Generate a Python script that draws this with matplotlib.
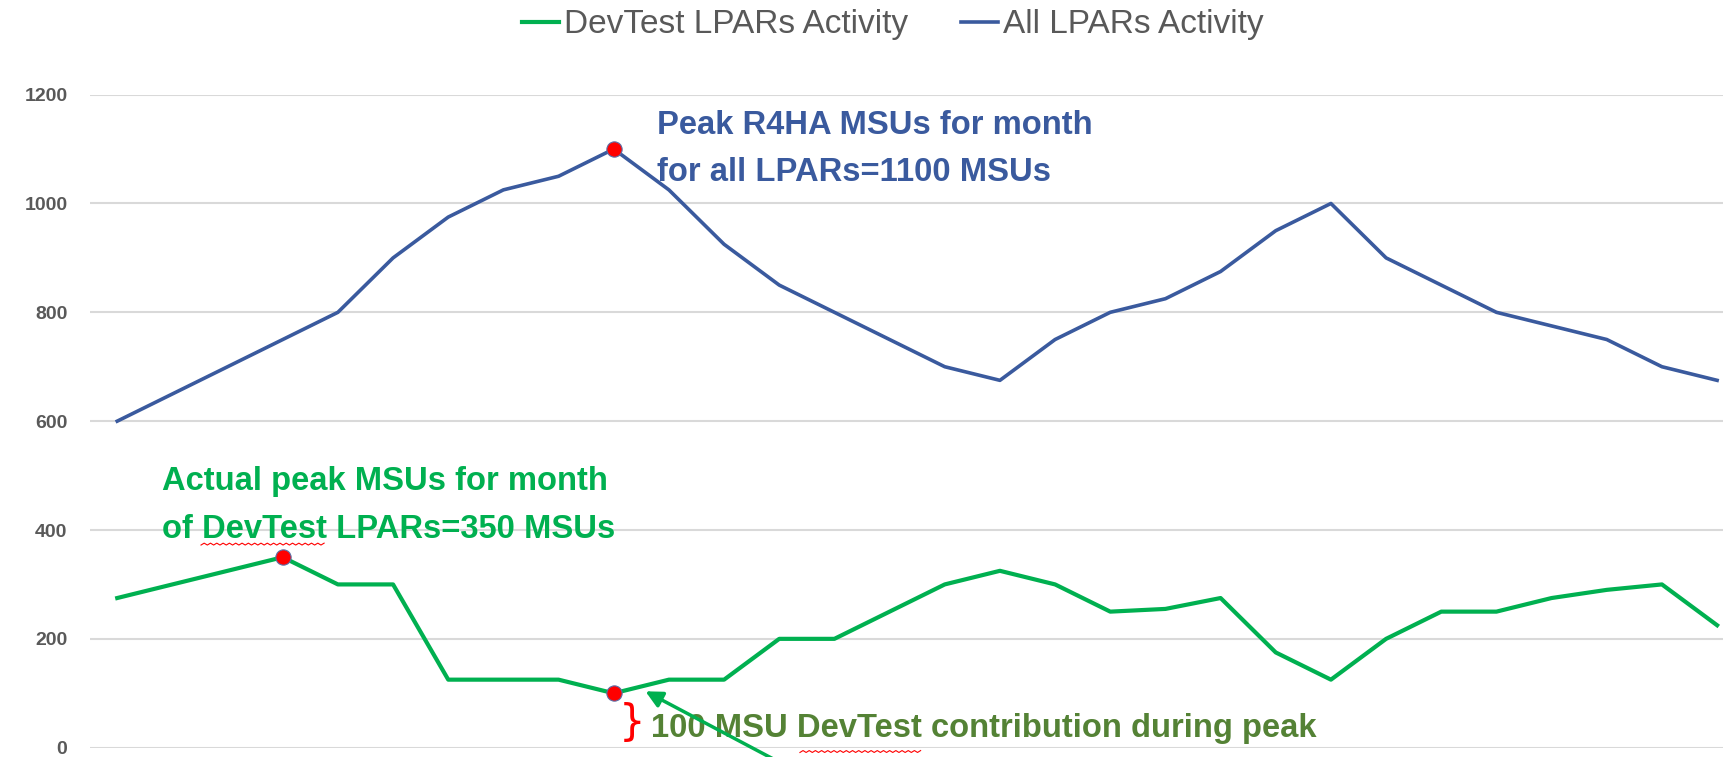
import matplotlib
matplotlib.use("Agg")
import matplotlib.pyplot as plt
import numpy as np

days = list(range(30))
devtest = [275, 300, 325, 350, 300, 300, 125, 125, 125, 100,
           125, 125, 200, 200, 250, 300, 325, 300, 250, 255,
           275, 175, 125, 200, 250, 250, 275, 290, 300, 225]
all_lpars = [600, 650, 700, 750, 800, 900, 975, 1025, 1050, 1100,
             1025, 925, 850, 800, 750, 700, 675, 750, 800, 825,
             875, 950, 1000, 900, 850, 800, 775, 750, 700, 675]
yticks = [0, 200, 400, 600, 800, 1000, 1200]

green = "#00B050"
blue = "#3A5A9E"
font = ["Liberation Sans", "DejaVu Sans"]

fig = plt.figure(figsize=(17.24, 7.57), dpi=100)
ax = fig.add_axes([0.052, 0.0123, 0.96, 0.8627])

ax.plot(days, devtest, color=green, lw=3.0, label="DevTest LPARs Activity", zorder=3)
ax.plot(days, all_lpars, color=blue, lw=2.6, label="All LPARs Activity", zorder=3)

# red peak markers
peak_dev = devtest.index(max(devtest))
peak_all = all_lpars.index(max(all_lpars))
for x, y in [(peak_dev, devtest[peak_dev]), (peak_all, all_lpars[peak_all]),
             (peak_all, devtest[peak_all])]:
    ax.plot(x, y, "o", color="red", mec="#5B6FA8", mew=0.8, ms=11, zorder=4)

ax.set_xlim(-0.5, 29.5)
ax.set_ylim(0, 1200)
ax.set_yticks(yticks)
ax.set_xticks([])
ax.grid(axis="y", color="#D9D9D9", lw=1.5)
ax.set_axisbelow(True)
for s in ax.spines.values():
    s.set_visible(False)
ax.tick_params(axis="y", length=0, pad=16, labelcolor="#595959")
for lab in ax.get_yticklabels():
    lab.set_fontfamily(font)
    lab.set_fontweight("bold")
    lab.set_fontsize(14)

fig.legend(loc="center", bbox_to_anchor=(0.518, 0.967), ncol=2, frameon=False,
           prop={"family": font, "size": 24}, labelcolor="#595959",
           handlelength=1.1, handletextpad=0.15, columnspacing=1.6)

ax.text(9.78, 1100, "Peak R4HA MSUs for month\nfor all LPARs=1100 MSUs",
        color=blue, fontsize=23.6, fontweight="bold", family=font,
        ha="left", va="center", linespacing=1.68)
ax.text(0.82, 445, "Actual peak MSUs for month\nof DevTest LPARs=350 MSUs",
        color=green, fontsize=23.6, fontweight="bold", family=font,
        ha="left", va="center", linespacing=1.68)
ax.text(9.67, 36, "100 MSU DevTest contribution during peak",
        color="#548235", fontsize=23.6, fontweight="bold", family=font,
        ha="left", va="center", zorder=5)
ax.text(9.33, 45, "}", color="red", fontsize=30, family="DejaVu Sans",
        ha="center", va="center")
ax.annotate("", xy=(9.53, 106), xytext=(12.25, -40),
            arrowprops=dict(arrowstyle="-|>", color=green, lw=2.5,
                            mutation_scale=25),
            annotation_clip=False, zorder=6)

# spell-check squiggles under "DevTest"
for x0, x1, y0 in [(0.1166, 0.188, 0.280), (0.464, 0.534, 0.006)]:
    xs = np.linspace(x0, x1, 40)
    ys = y0 + 0.0025 * (np.arange(40) % 2)
    fig.add_artist(plt.Line2D(xs, ys, color="red", lw=0.8, transform=fig.transFigure))

fig.savefig("out.png", dpi=100)
